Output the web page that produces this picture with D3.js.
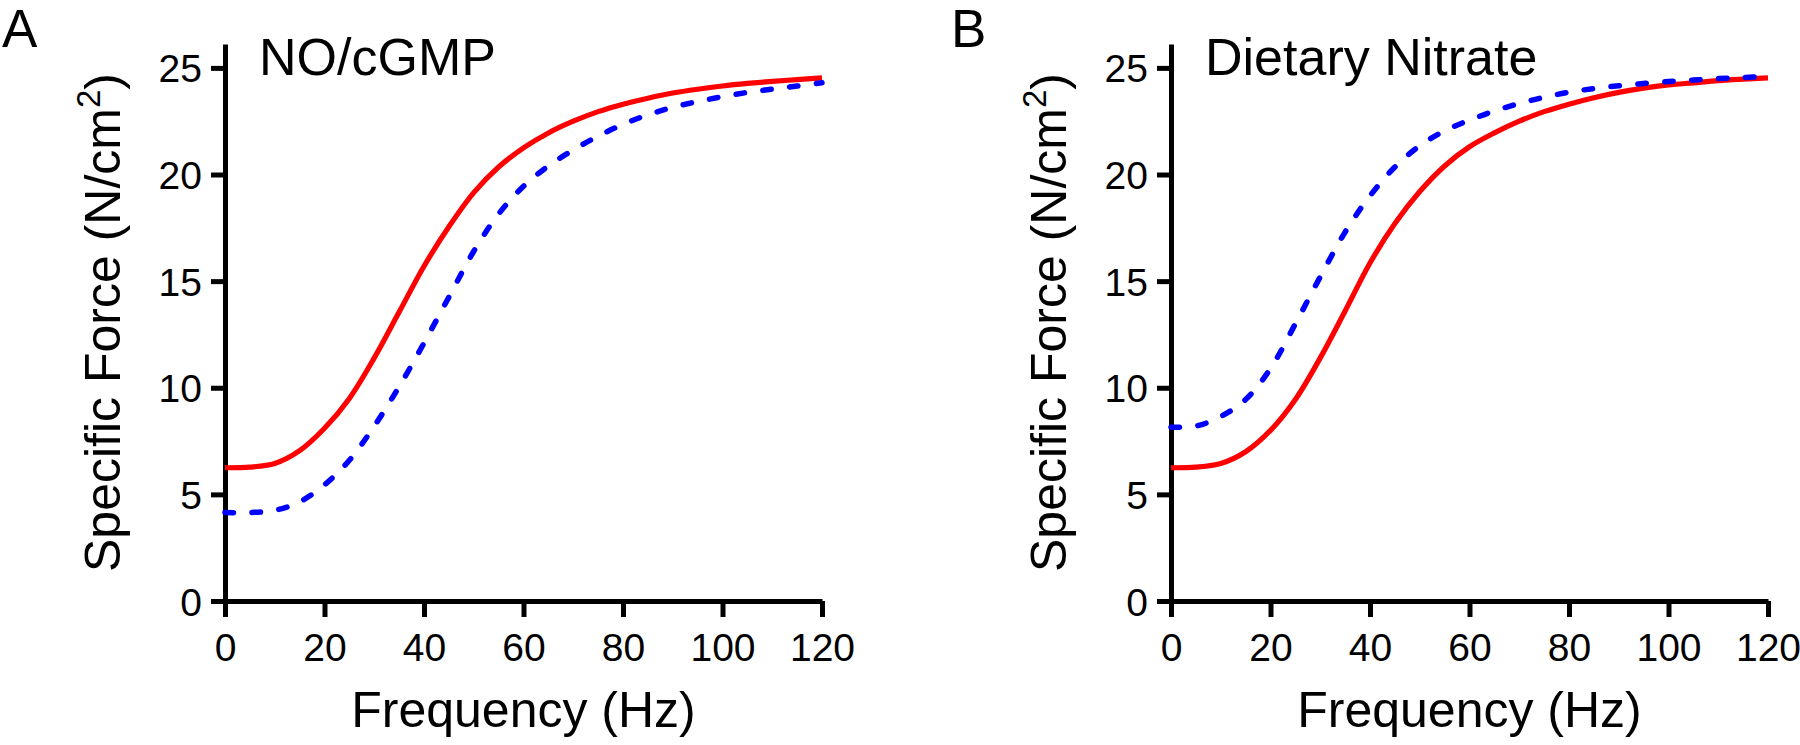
<!DOCTYPE html>
<html>
<head>
<meta charset="utf-8">
<script src="https://cdn.jsdelivr.net/npm/d3@7"></script>
<style>
  body { margin: 0; background: #fff; }
  svg { display: block; font-family: "Liberation Sans", Arial, sans-serif; }
  .axis path, .axis line { stroke: #000; stroke-width: 5; }
  .axis text { font-size: 39px; fill: #000; }
</style>
</head>
<body>
<svg id="chart" width="1800" height="745"></svg>
<script>
// frequency grid (Hz) every 5 Hz
const freq = [0, 5, 10, 15, 20, 25, 30, 35, 40, 45, 50, 55, 60, 65, 70, 75, 80, 85, 90, 95, 100, 105, 110, 115, 120];

// Panel A: NO/cGMP
const redA  = [6.25, 6.28, 6.45, 7.05, 8.1, 9.5, 11.4, 13.55, 15.7, 17.55, 19.15, 20.35, 21.25, 21.95, 22.5, 22.95, 23.3, 23.58, 23.82, 24.0, 24.15, 24.27, 24.37, 24.45, 24.53];
const blueA = [4.15, 4.15, 4.25, 4.65, 5.45, 6.6, 8.2, 10.05, 12.1, 14.25, 16.4, 18.15, 19.45, 20.4, 21.15, 21.8, 22.35, 22.8, 23.15, 23.42, 23.65, 23.85, 24.0, 24.15, 24.3];

// Panel B: Dietary Nitrate
const redB  = [6.25, 6.28, 6.45, 7.0, 8.0, 9.45, 11.4, 13.6, 15.85, 17.7, 19.2, 20.4, 21.3, 21.95, 22.5, 22.95, 23.3, 23.6, 23.85, 24.05, 24.2, 24.3, 24.4, 24.47, 24.53];
const blueB = [8.15, 8.2, 8.65, 9.45, 10.9, 13.0, 15.2, 17.3, 19.0, 20.35, 21.35, 22.05, 22.55, 22.98, 23.33, 23.62, 23.86, 24.03, 24.16, 24.27, 24.36, 24.43, 24.5, 24.55, 24.6];

const xTicks = [0, 20, 40, 60, 80, 100, 120];
const yTicks = [0, 5, 10, 15, 20, 25];

const svg = d3.select("#chart");

function drawPanel(opts) {
    const x = d3.scaleLinear().domain([0, 120]).range([opts.left, opts.left + 597]);
    const y = d3.scaleLinear().domain([0, 26.12]).range([601, 44]);

    const g = svg.append("g");

    // y axis
    g.append("g")
        .attr("class", "axis")
        .attr("transform", `translate(${opts.left},0)`)
        .call(d3.axisLeft(y).tickValues(yTicks).tickSize(14).tickSizeOuter(0).tickPadding(9))
        .call(a => a.selectAll("text").attr("dy", "0.36em"));

    // x axis
    g.append("g")
        .attr("class", "axis")
        .attr("transform", `translate(0,${y(0)})`)
        .call(d3.axisBottom(x).tickValues(xTicks).tickSize(16).tickSizeOuter(0).tickPadding(16));

    const line = d3.line()
        .x((d, i) => x(freq[i]))
        .y(d => y(d))
        .curve(d3.curveCatmullRom.alpha(0.5));

    g.append("path")
        .datum(opts.red)
        .attr("d", line)
        .attr("fill", "none")
        .attr("stroke", "#ff0000")
        .attr("stroke-width", 5.2);

    g.append("path")
        .datum(opts.blue)
        .attr("d", line)
        .attr("fill", "none")
        .attr("stroke", "#0000ff")
        .attr("stroke-width", 5.5)
        .attr("stroke-linecap", "round")
        .attr("stroke-dasharray", "8.5,18.5");

    // panel letter
    g.append("text")
        .attr("x", opts.letterX)
        .attr("y", 47)
        .attr("font-size", 53)
        .text(opts.letter);

    // title
    g.append("text")
        .attr("x", opts.left + 34)
        .attr("y", 75)
        .attr("font-size", 52)
        .text(opts.title);

    // x label
    g.append("text")
        .attr("x", x(60))
        .attr("y", 727)
        .attr("text-anchor", "middle")
        .attr("font-size", 50)
        .text("Frequency (Hz)");

    // y label
    const yl = g.append("text")
        .attr("transform", `translate(${opts.left - 105},${(y(0) + y(26.12)) / 2}) rotate(-90)`)
        .attr("text-anchor", "middle")
        .attr("font-size", 50);
    yl.append("tspan").text("Specific Force (N/cm");
    yl.append("tspan").attr("font-size", 33).attr("dy", -20).text("2");
    yl.append("tspan").attr("dy", 20).text(")");
}

drawPanel({ left: 225, letter: "A", letterX: 2, title: "NO/cGMP", red: redA, blue: blueA });
drawPanel({ left: 1171, letter: "B", letterX: 951, title: "Dietary Nitrate", red: redB, blue: blueB });
</script>
</body>
</html>
